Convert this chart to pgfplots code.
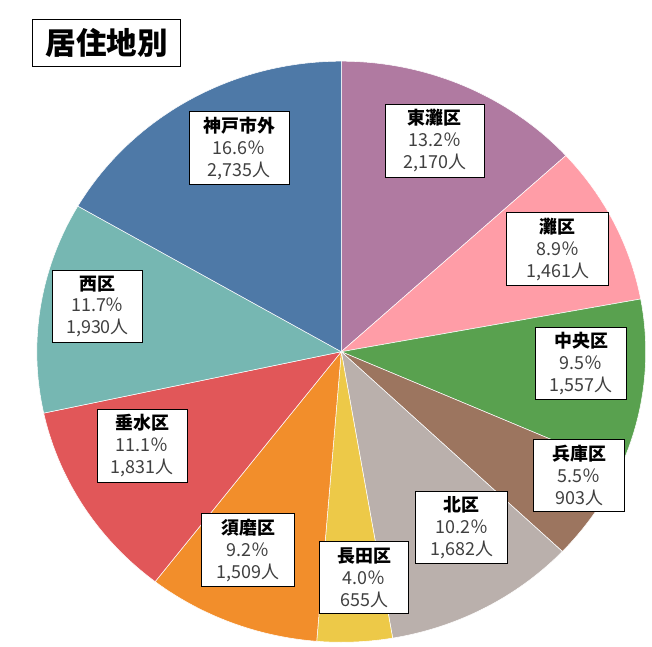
\documentclass[border=0pt]{standalone}
\usepackage{fontspec}
\setmainfont{Noto Sans CJK JP}
\usepackage{pgfplots}
\usepackage{pgfplotstable}
\pgfplotsset{compat=1.18}
\definecolor{cHig}{HTML}{B07AA1}
\definecolor{cNad}{HTML}{FF9DA7}
\definecolor{cChu}{HTML}{59A14F}
\definecolor{cHyo}{HTML}{9C755F}
\definecolor{cKit}{HTML}{BAB0AC}
\definecolor{cNag}{HTML}{EDC948}
\definecolor{cSum}{HTML}{F28E2B}
\definecolor{cTar}{HTML}{E15759}
\definecolor{cNis}{HTML}{76B7B2}
\definecolor{cGai}{HTML}{4E79A7}
\definecolor{txtgray}{HTML}{404040}

% district, residents, colour (clockwise from 12 o'clock)
\pgfplotstableread{
id value color
Higashinada 2170 cHig
Nada 1461 cNad
Chuo 1557 cChu
Hyogo 903 cHyo
Kita 1682 cKit
Nagata 655 cNag
Suma 1509 cSum
Tarumi 1831 cTar
Nishi 1930 cNis
Outside 2735 cGai
}\piedata

\tikzset{lbl/.style={draw=black, line width=0.75pt, fill=white, align=center,
  inner sep=0pt, minimum width=#1, minimum height=54.75pt,
  font=\fontsize{13.5}{16.5}\selectfont}}
\newcommand{\lab}[3]{{\bfseries #1}\\{\color{txtgray}#2}\\{\color{txtgray}#3}}

\begin{document}
\begin{tikzpicture}
\pgfplotstablegetrowsof{\piedata}
\pgfmathtruncatemacro\N{\pgfplotsretval-1}
\gdef\total{0}
\foreach \i in {0,...,\N}{
  \pgfplotstablegetelem{\i}{value}\of\piedata
  \pgfmathsetmacro\tmp{\total+\pgfplotsretval/1000}
  \xdef\total{\tmp}
}
\begin{axis}[
  x=0.75pt, y=0.75pt,
  xmin=-343, xmax=309, ymin=-296.5, ymax=353.5,
  scale only axis, clip=false,
  axis line style={draw=none},
  xtick=\empty, ytick=\empty,
]
\def\cum{0}
\pgfplotsforeachungrouped \i in {0,...,\N}{
  \pgfplotstablegetelem{\i}{value}\of\piedata
  \let\v\pgfplotsretval
  \pgfplotstablegetelem{\i}{color}\of\piedata
  \let\c\pgfplotsretval
  \pgfmathsetmacro\a{90-360*(\cum/\total)}
  \pgfmathsetmacro\cum{\cum+\v/1000}
  \pgfmathsetmacro\b{90-360*(\cum/\total)}
  \edef\temp{\noexpand\fill[\c, draw=white, line width=0.4pt] (axis cs:0,0) -- ++(\a:229.5pt and 219pt)
     arc[start angle=\a, end angle=\b, x radius=229.5pt, y radius=219pt] -- cycle;}
  \temp
}
% title
\node[draw=black, line width=0.75pt, inner sep=0pt, minimum width=111.75pt, minimum height=36pt,
  font=\fontsize{23}{26}\selectfont\bfseries] at (axis cs:-235.8,310.2) {居住地別};
% data labels
\node[lbl=75.75pt] at (axis cs:-102.5,204.5) {\lab{神戸市外}{16.6％}{2,735人}};
\node[lbl=75pt]    at (axis cs:94,212)       {\lab{東灘区}{13.2％}{2,170人}};
\node[lbl=77.25pt] at (axis cs:217.5,103)    {\lab{灘区}{8.9％}{1,461人}};
\node[lbl=69pt]    at (axis cs:241,-12)      {\lab{中央区}{9.5％}{1,557人}};
\node[lbl=69pt]    at (axis cs:239,-124.5)   {\lab{兵庫区}{5.5％}{903人}};
\node[lbl=69pt]    at (axis cs:121,-176.5)   {\lab{北区}{10.2％}{1,682人}};
\node[lbl=66.75pt] at (axis cs:23,-227)      {\lab{長田区}{4.0％}{655人}};
\node[lbl=69.75pt] at (axis cs:-93.5,-199.5) {\lab{須磨区}{9.2％}{1,509人}};
\node[lbl=68.25pt] at (axis cs:-200,-94.5)   {\lab{垂水区}{11.1％}{1,831人}};
\node[lbl=68.25pt] at (axis cs:-245,45.5)    {\lab{西区}{11.7％}{1,930人}};
\end{axis}
\end{tikzpicture}
\end{document}
